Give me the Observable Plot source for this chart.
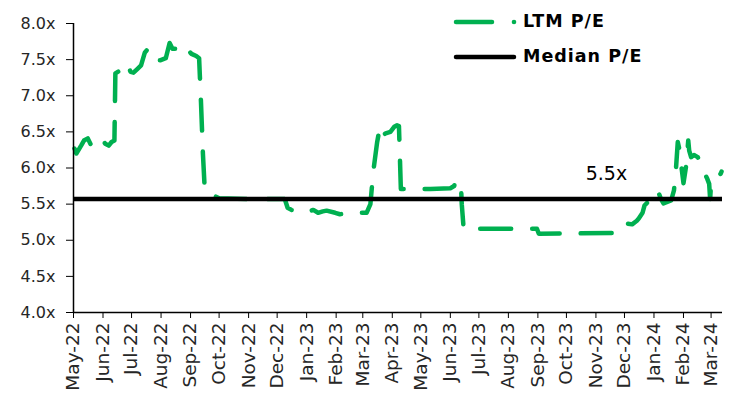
<!DOCTYPE html>
<html>
<head>
<meta charset="utf-8">
<script src="https://cdn.jsdelivr.net/npm/d3@7"></script>
<script src="https://cdn.jsdelivr.net/npm/@observablehq/plot@0.6"></script>
<style>
  html, body { margin: 0; padding: 0; background: #fff; }
  #wrap { position: relative; width: 746px; height: 400px; font-family: "DejaVu Sans", sans-serif; }
  #legend { position: absolute; left: 0; top: 0; width: 746px; height: 80px; pointer-events: none; }
  .lg { position: absolute; left: 523px; font-weight: bold; font-size: 17.5px; letter-spacing: 1px; color: #000; line-height: 1; white-space: nowrap; }
</style>
</head>
<body>
<div id="wrap">
  <div id="chart"></div>
  <svg id="legend" width="746" height="80">
    <line x1="456" x2="492" y1="22" y2="22" stroke="#00B050" stroke-width="4.5" stroke-linecap="round"/>
    <circle cx="514" cy="22" r="2.3" fill="#00B050"/>
    <line x1="456" x2="514" y1="57" y2="57" stroke="#000" stroke-width="4.5" stroke-linecap="round"/>
  </svg>
  <div class="lg" style="top:13px">LTM P/E</div>
  <div class="lg" style="top:48px">Median P/E</div>
</div>
<script>
// ---- data ----
const dates = [
  "2022-05-02","2022-05-04","2022-05-09","2022-05-12","2022-05-16","2022-05-19","2022-05-24","2022-05-27",
  "2022-06-01","2022-06-03","2022-06-07","2022-06-10","2022-06-13","2022-06-14","2022-06-19","2022-06-24",
  "2022-06-26","2022-06-30","2022-07-03","2022-07-07","2022-07-11","2022-07-15","2022-07-17","2022-07-20",
  "2022-07-31","2022-08-06","2022-08-10","2022-08-13","2022-08-16","2022-08-20","2022-08-24","2022-08-28",
  "2022-09-02","2022-09-07","2022-09-10","2022-09-12","2022-09-14","2022-09-16","2022-09-24","2022-10-01",
  "2022-11-01","2022-12-09","2022-12-12","2022-12-16","2022-12-21","2022-12-28","2023-01-02","2023-01-08",
  "2023-01-13","2023-01-18","2023-01-22","2023-01-31","2023-02-05","2023-02-13","2023-02-21","2023-02-28",
  "2023-03-05","2023-03-09","2023-03-12","2023-03-16","2023-03-19","2023-03-22","2023-03-25","2023-03-30",
  "2023-04-03","2023-04-06","2023-04-08","2023-04-10","2023-05-11","2023-06-01","2023-06-05","2023-06-06",
  "2023-06-12","2023-06-13","2023-06-15","2023-08-31","2023-09-02","2023-11-26","2023-12-01","2023-12-04",
  "2023-12-09","2023-12-14","2023-12-16","2023-12-20","2023-12-22","2023-12-27","2024-01-02","2024-01-05",
  "2024-01-08","2024-01-11","2024-01-15","2024-01-19","2024-01-22","2024-01-24","2024-01-26","2024-01-29",
  "2024-01-30","2024-02-01","2024-02-04","2024-02-06","2024-02-07","2024-02-09","2024-02-12","2024-02-16",
  "2024-02-19","2024-02-21","2024-02-23","2024-02-26","2024-02-28","2024-02-29","2024-03-01","2024-03-04",
  "2024-03-07","2024-03-11","2024-03-12"
];
const ltmPE = [
  6.27,6.20,6.31,6.38,6.41,6.33,6.30,6.37,
  6.40,6.34,6.31,6.36,6.38,7.31,7.35,7.38,
  7.45,7.33,7.32,7.37,7.42,7.60,7.63,7.49,
  7.49,7.52,7.73,7.65,7.65,7.72,7.68,7.65,
  7.58,7.55,7.52,6.90,6.20,5.68,5.63,5.58,
  5.57,5.57,5.45,5.42,5.41,5.42,5.39,5.42,
  5.38,5.40,5.41,5.38,5.36,5.37,5.39,5.38,
  5.38,5.50,5.95,6.35,6.57,6.45,6.48,6.50,
  6.57,6.59,6.58,5.71,5.71,5.72,5.75,5.80,
  5.82,5.50,5.16,5.16,5.09,5.10,5.16,5.23,
  5.22,5.27,5.30,5.38,5.48,5.55,5.65,5.69,
  5.58,5.51,5.53,5.55,5.69,5.97,6.36,6.18,
  6.00,5.79,6.05,6.38,6.24,6.15,6.18,6.15,
  6.08,6.00,5.93,5.85,5.78,5.57,5.78,5.80,
  5.85,5.92,5.95
];
const medianPE = 5.57;
const medianLabel = "5.5x";
const medianLabelDate = "2023-11-12";
const xDomain = ["2022-05-01", "2024-03-13"];
const xTickLabels = ["May-22","Jun-22","Jul-22","Aug-22","Sep-22","Oct-22","Nov-22","Dec-22","Jan-23","Feb-23",
  "Mar-23","Apr-23","May-23","Jun-23","Jul-23","Aug-23","Sep-23","Oct-23","Nov-23","Dec-23","Jan-24","Feb-24","Mar-24"];
const yTicks = [4.0, 4.5, 5.0, 5.5, 6.0, 6.5, 7.0, 7.5, 8.0];

// ---- build ----
const parseD = d3.utcParse("%Y-%m-%d");
const data = dates.map((d, i) => ({date: parseD(d), pe: ltmPE[i]}));
const xTicks = xTickLabels.map(d3.utcParse("%b-%y"));
const fmt = d3.utcFormat("%b-%y");
const x0 = parseD(xDomain[0]);

const chart = Plot.plot({
  width: 746,
  height: 400,
  marginLeft: 73,
  marginRight: 24,
  marginTop: 23,
  marginBottom: 88,
  style: {fontFamily: "DejaVu Sans, sans-serif", color: "#000", background: "#fff", overflow: "visible"},
  x: {type: "utc", domain: xDomain.map(parseD)},
  y: {domain: [4, 8]},
  marks: [
    Plot.axisY({ticks: yTicks, tickFormat: d => d.toFixed(1) + "x", tickSize: 7, tickPadding: 11,
      fontSize: 16, label: null, stroke: "#000", fill: "#262626", style: {letterSpacing: "1px"}}),
    Plot.axisX({ticks: xTicks, tickFormat: fmt, tickRotate: -90, tickSize: 6, tickPadding: 4,
      fontSize: 18.5, label: null, stroke: "#000", fill: "#262626", style: {letterSpacing: "2px"}}),
    Plot.line(data, {x: "date", y: "pe", stroke: "#00B050", strokeWidth: 4.5,
      strokeDasharray: "31,21", strokeLinecap: "round", strokeLinejoin: "round"}),
    Plot.ruleY([medianPE], {stroke: "#000", strokeWidth: 4.5}),
    Plot.text([medianPE], {x: () => parseD(medianLabelDate), y: d => d, text: () => medianLabel,
      dy: -25, fontSize: 19, fill: "#000"}),
    Plot.ruleY([4], {stroke: "#000", strokeWidth: 1.5}),
    Plot.ruleX([x0], {stroke: "#000", strokeWidth: 1.5})
  ]
});
document.getElementById("chart").appendChild(chart);
</script>
</body>
</html>
